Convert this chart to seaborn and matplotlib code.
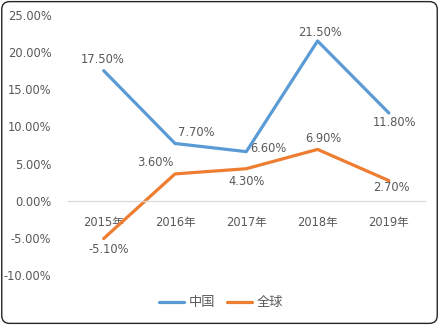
import matplotlib
matplotlib.use("Agg")
import matplotlib.pyplot as plt
from matplotlib.patches import FancyBboxPatch
from matplotlib.ticker import FuncFormatter
import pandas as pd
import seaborn as sns

years = ["2015年", "2016年", "2017年", "2018年", "2019年"]
china = [17.5, 7.7, 6.6, 21.5, 11.8]
world = [-5.1, 3.6, 4.3, 6.9, 2.7]
series_names = ["中国", "全球"]

# label offsets in points (dx, dy) for each series
china_offsets = [(-1, 8), (15, 8), (16, 2), (2, 6), (4, -7)]
world_offsets = [(4, -8), (-14, 8), (0, -9), (4, 8), (2, -5)]

sns.set_theme(style="white")
plt.rcParams["font.family"] = ["DejaVu Sans", "Noto Sans CJK SC"]
text_color = "#595959"

df = pd.DataFrame({
    "year": years * 2,
    "value": china + world,
    "series": [series_names[0]] * len(years) + [series_names[1]] * len(years),
})

fig = plt.figure(figsize=(4.39, 3.25), dpi=100)
ax = fig.add_axes([0.155, 0.154, 0.812, 0.800])

palette = {series_names[0]: "#5B9BD5", series_names[1]: "#ED7D31"}
sns.lineplot(data=df, x="year", y="value", hue="series", palette=palette,
             linewidth=2.3, ax=ax, sort=False, legend=True)

ax.set_xlim(-0.5, len(years) - 0.5)
ax.set_ylim(-10, 25)
ax.set_yticks(range(-10, 26, 5))
ax.yaxis.set_major_formatter(FuncFormatter(lambda v, p: f"{v:.2f}%"))
ax.set_xlabel("")
ax.set_ylabel("")

for side in ["top", "right", "left"]:
    ax.spines[side].set_visible(False)
ax.spines["bottom"].set_position(("data", 0))
ax.spines["bottom"].set_color("#D9D9D9")
ax.spines["bottom"].set_linewidth(0.9)
ax.tick_params(axis="both", length=0, labelsize=8.3, labelcolor=text_color)
ax.tick_params(axis="x", pad=11)
ax.tick_params(axis="y", pad=12)

for vals, offs in [(china, china_offsets), (world, world_offsets)]:
    for i, (v, (dx, dy)) in enumerate(zip(vals, offs)):
        ax.annotate(f"{v:.2f}%", (i, v), xytext=(dx, dy), textcoords="offset points",
                    ha="center", va="center", fontsize=8.3, color=text_color)

handles, labels = ax.get_legend_handles_labels()
ax.legend(handles, labels, loc="center", bbox_to_anchor=(0.503, 0.068),
          bbox_transform=fig.transFigure, ncol=2, frameon=False, fontsize=9.5,
          labelcolor=text_color, handlelength=1.9, handletextpad=0.35,
          columnspacing=0.9)

border = FancyBboxPatch((0.004, 0.005), 0.992, 0.99, boxstyle="round,pad=0,rounding_size=0.018",
                        transform=fig.transFigure, facecolor="none", edgecolor="#262626",
                        linewidth=1.0, mutation_aspect=439 / 325)
fig.patches.append(border)

fig.savefig("out.png", dpi=100)
